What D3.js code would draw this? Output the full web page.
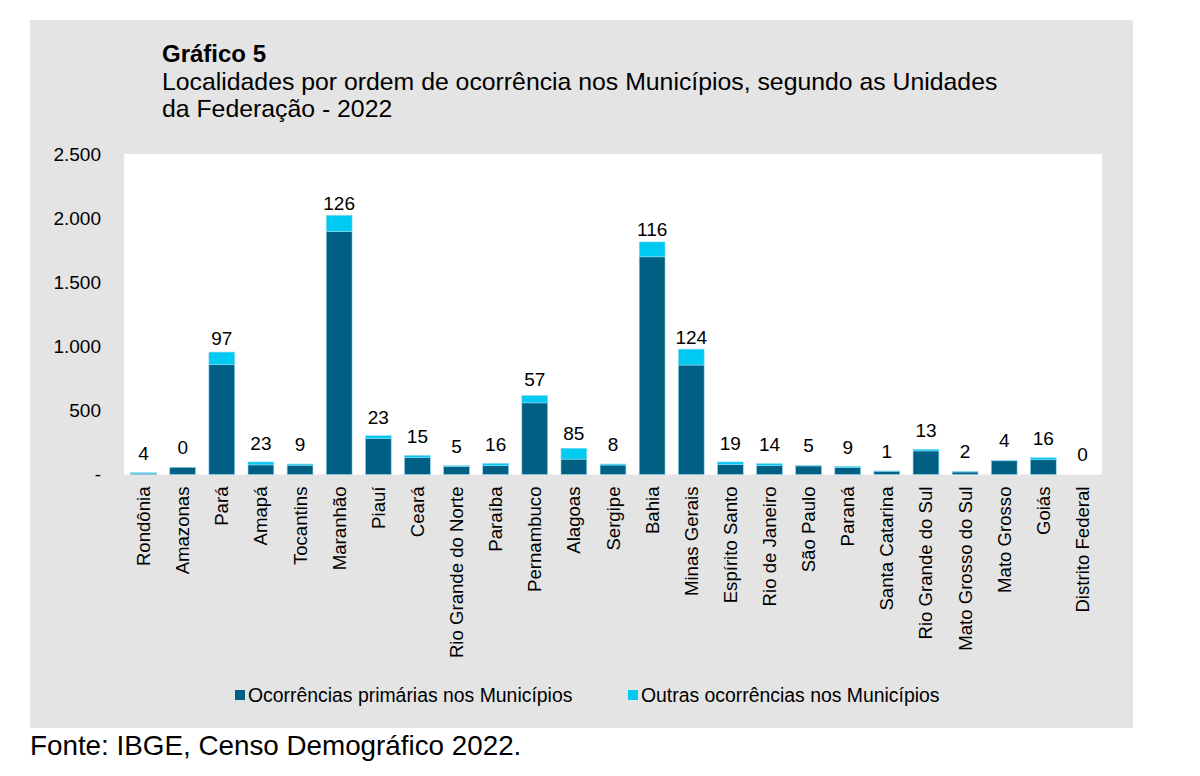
<!DOCTYPE html>
<html>
<head>
<meta charset="utf-8">
<script src="https://cdn.jsdelivr.net/npm/d3@7"></script>
<style>
  body { margin: 0; background: #ffffff; }
  svg text { font-family: "Liberation Sans", Arial, sans-serif; fill: #000; }
</style>
</head>
<body>
<div class="main"></div>
<script>
// categories (Unidades da Federação)
var ufs = ["Rondônia", "Amazonas", "Pará", "Amapá", "Tocantins", "Maranhão", "Piauí", "Ceará",
  "Rio Grande do Norte", "Paraíba", "Pernambuco", "Alagoas", "Sergipe", "Bahia", "Minas Gerais",
  "Espírito Santo", "Rio de Janeiro", "São Paulo", "Paraná", "Santa Catarina", "Rio Grande do Sul",
  "Mato Grosso do Sul", "Mato Grosso", "Goiás", "Distrito Federal"];
// primary occurrences
var primarias = [10, 56, 858, 75, 73, 1896, 280, 134, 64, 71, 559, 120, 74, 1698, 854,
  79, 71, 67, 55, 26, 184, 20, 107, 115, 0];
// other occurrences (labelled values)
var outras = [4, 0, 97, 23, 9, 126, 23, 15, 5, 16, 57, 85, 8, 116, 124,
  19, 14, 5, 9, 1, 13, 2, 4, 16, 0];
var yTicks = [0, 500, 1000, 1500, 2000, 2500];
var seriesNames = ["Ocorrências primárias nos Municípios", "Outras ocorrências nos Municípios"];

var fullwidth = 1200, fullheight = 776;
var svg = d3.select(".main")
  .append("svg")
  .attr("width", fullwidth)
  .attr("height", fullheight);

var color = d3.scaleOrdinal()
  .domain(["prim", "outr"])
  .range(["#005f83", "#00c9f2"]);

// grey panel
svg.append("rect")
  .attr("x", 30).attr("y", 20)
  .attr("width", 1103).attr("height", 708)
  .attr("fill", "#e4e4e4");

// plot area
var plot = { left: 124, right: 1102, top: 154, bottom: 474.5 };
svg.append("rect")
  .attr("x", plot.left).attr("y", plot.top)
  .attr("width", plot.right - plot.left).attr("height", plot.bottom - plot.top)
  .attr("fill", "#ffffff");

// titles
svg.append("text").attr("x", 162).attr("y", 62)
  .style("font-size", "24px").style("font-weight", "bold")
  .text("Gráfico 5");
svg.append("text").attr("x", 162).attr("y", 90)
  .style("font-size", "24.8px")
  .text("Localidades por ordem de ocorrência nos Municípios, segundo as Unidades");
svg.append("text").attr("x", 162).attr("y", 117)
  .style("font-size", "24.8px")
  .text("da Federação - 2022");

// scales
var x = d3.scaleBand()
  .domain(ufs)
  .range([plot.left, plot.right])
  .paddingInner(0.34)
  .paddingOuter(0.17);

var y = d3.scaleLinear()
  .domain([0, 2500])
  .range([plot.bottom, plot.top]);

// y axis
var yAxis = svg.append("g")
  .attr("transform", "translate(" + (plot.left - 23) + ",0)")
  .call(d3.axisLeft(y).tickValues(yTicks).tickSize(0)
    .tickFormat(function(d) { return d === 0 ? "-" : d3.format(",")(d).replace(/,/g, "."); }));
yAxis.select(".domain").remove();
yAxis.selectAll("text")
  .attr("x", 0)
  .style("font-size", "19px")
  .style("font-family", "Liberation Sans, Arial, sans-serif");

// x axis labels
var xAxis = svg.append("g")
  .attr("transform", "translate(0," + (plot.bottom + 12) + ")")
  .call(d3.axisBottom(x).tickSize(0));
xAxis.select(".domain").remove();
xAxis.selectAll("text")
  .attr("transform", "rotate(-90)")
  .attr("x", 0)
  .attr("y", 0)
  .attr("dy", "0.35em")
  .style("text-anchor", "end")
  .style("font-size", "18.6px")
  .style("font-family", "Liberation Sans, Arial, sans-serif");

// stacked data
var rows = ufs.map(function(d, i) {
  return { uf: d, prim: primarias[i], outr: outras[i] };
});
var stack = d3.stack().keys(["prim", "outr"])(rows);

svg.append("g")
  .selectAll("g")
  .data(stack)
  .join("g")
  .attr("fill", function(d) { return color(d.key); })
  .selectAll("rect")
  .data(function(d) { return d; })
  .join("rect")
  .attr("x", function(d) { return x(d.data.uf); })
  .attr("y", function(d) { return y(d[1]); })
  .attr("width", x.bandwidth())
  .attr("height", function(d) { return y(d[0]) - y(d[1]); })
  .attr("stroke", "#8fd8ee")
  .attr("stroke-width", 0.6);

// value labels (Outras)
svg.append("g")
  .selectAll("text")
  .data(rows)
  .join("text")
  .attr("x", function(d) { return x(d.uf) + x.bandwidth() / 2; })
  .attr("y", function(d) { return y(d.prim + d.outr / 2) - 20; })
  .attr("dy", "0.35em")
  .attr("text-anchor", "middle")
  .style("font-size", "19px")
  .text(function(d) { return d.outr; });

// legend
var legend = svg.append("g").attr("transform", "translate(0,695)");
var legX = [235, 628];
seriesNames.forEach(function(name, i) {
  legend.append("rect")
    .attr("x", legX[i]).attr("y", -5)
    .attr("width", 10).attr("height", 10)
    .attr("fill", color(i === 0 ? "prim" : "outr"));
  legend.append("text")
    .attr("x", legX[i] + 13).attr("y", 0)
    .attr("dy", "0.35em")
    .style("font-size", "19.4px")
    .text(name);
});

// source
svg.append("text").attr("x", 30).attr("y", 755)
  .style("font-size", "27.8px")
  .text("Fonte: IBGE, Censo Demográfico 2022.");
</script>
</body>
</html>
